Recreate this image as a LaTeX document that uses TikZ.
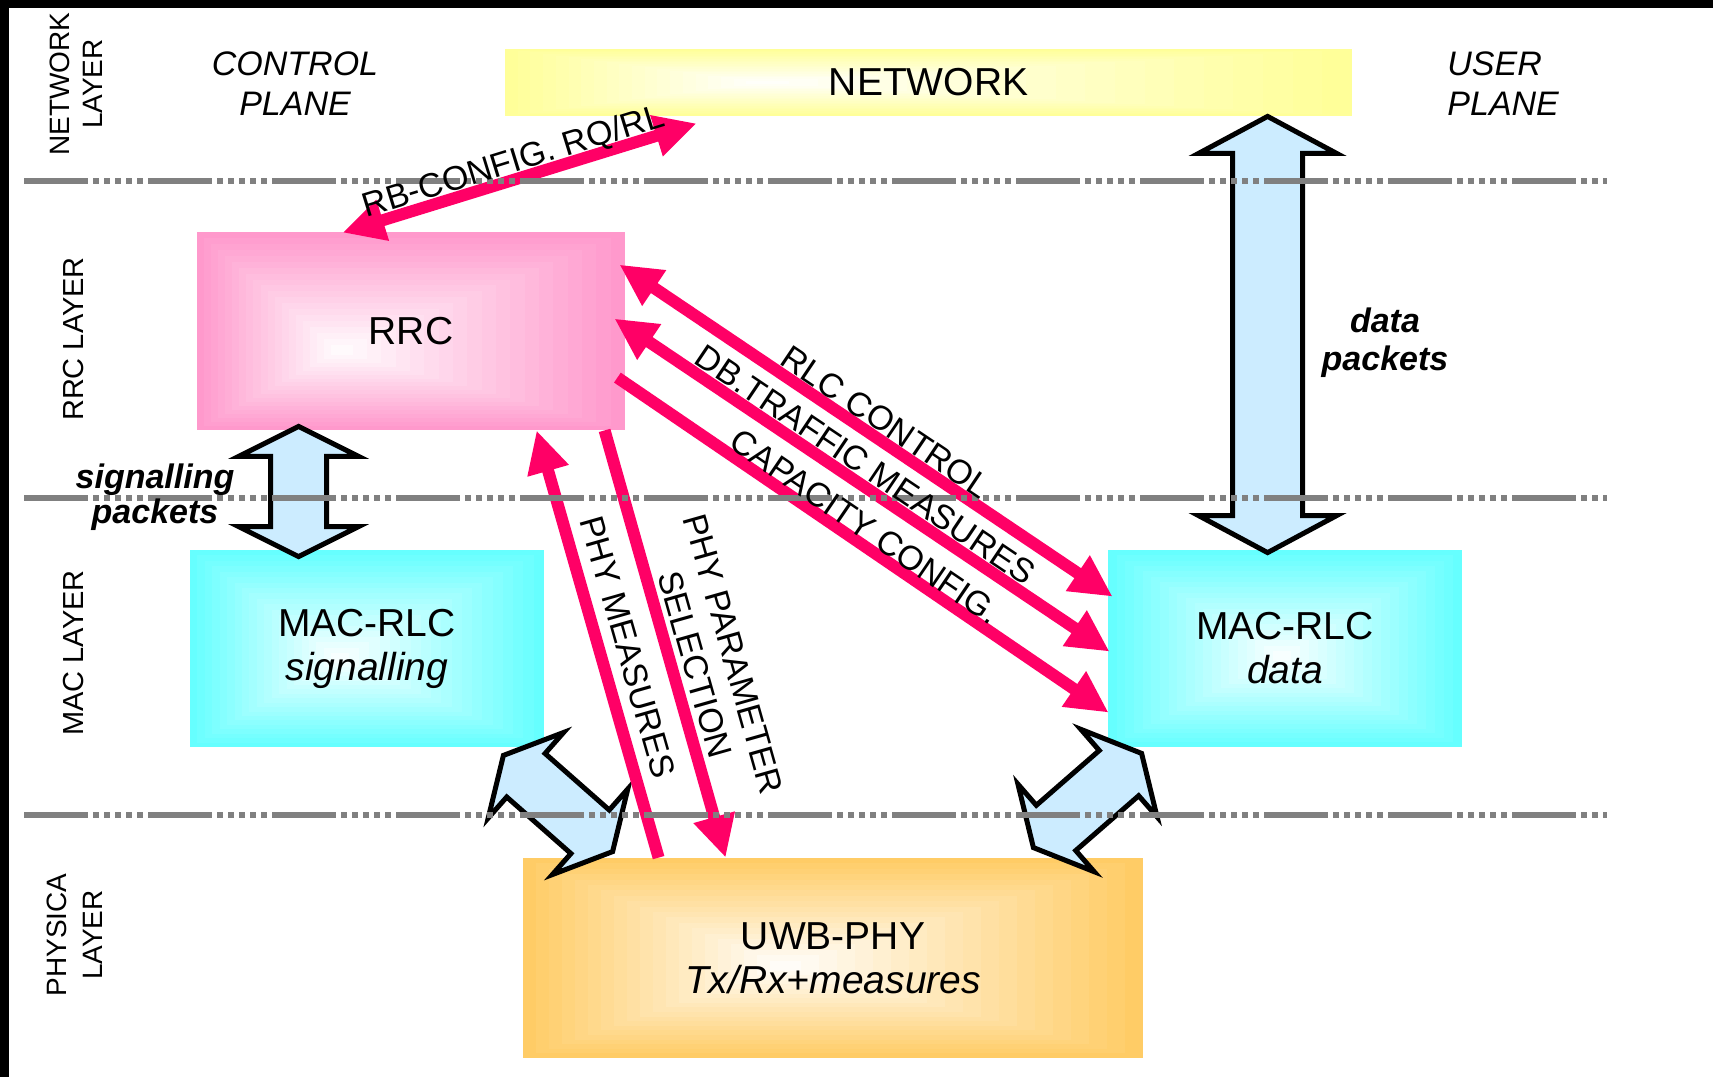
\documentclass[tikz,border=0pt]{standalone}
\usepackage{fontspec}
\setmainfont{Liberation Sans}
\usetikzlibrary{arrows.meta,calc}

\definecolor{netyellow}{HTML}{FFFF99}
\definecolor{rrcpink}{HTML}{FF99CC}
\definecolor{maccyan}{HTML}{66FFFF}
\definecolor{phyorange}{HTML}{FFCC66}
\definecolor{flowblue}{HTML}{CCECFF}
\definecolor{ctrlred}{HTML}{FF0066}
\definecolor{rulegray}{HTML}{808080}

% hollow double block arrow between two tips:
% #1,#2 tips, #3 head length, #4 head half width, #5 shaft half width
\newcommand\fatarrow[5]{%
  \path (#1) coordinate (fa-a) (#2) coordinate (fa-b);
  \path ($(fa-a)!#3!(fa-b)$) coordinate (fa-ah) ($(fa-b)!#3!(fa-a)$) coordinate (fa-bh);
  \draw[blockarrow] (fa-a)
    -- ($(fa-ah)!#4!90:(fa-b)$) -- ($(fa-ah)!#5!90:(fa-b)$)
    -- ($(fa-bh)!#5!-90:(fa-a)$) -- ($(fa-bh)!#4!-90:(fa-a)$)
    -- (fa-b)
    -- ($(fa-bh)!#4!90:(fa-a)$) -- ($(fa-bh)!#5!90:(fa-a)$)
    -- ($(fa-ah)!#5!-90:(fa-b)$) -- ($(fa-ah)!#4!-90:(fa-b)$)
    -- cycle;}

\tikzset{
  % rectangle filled with a stepped gradient from the border colour to white at a focus point
  gradbox/.style n args={3}{fill=#1,
    path picture={
      \path let \p1=(path picture bounding box.south west),
                \p2=(path picture bounding box.north east) in
        (\p1) coordinate (gsw) (\p2) coordinate (gne)
        ({\x1+#2*(\x2-\x1)},{\y2-#3*(\y2-\y1)}) coordinate (gfc);
      \foreach \i in {0,...,19}{
        \pgfmathsetmacro\t{\i/20}
        \pgfmathtruncatemacro\m{round(100*(1-\i/20))}
        \fill[#1!\m!white] ($(gsw)!\t!(gfc)$) rectangle ($(gne)!\t!(gfc)$);
      }
    }},
  box/.style={rectangle, inner sep=0pt, align=center, font=\fontsize{19.5}{22}\selectfont},
  layerlabel/.style={rotate=90, align=center, inner sep=0pt, font=\fontsize{14}{16.5}\selectfont},
  plane/.style={inner sep=0pt, font=\itshape\fontsize{17}{20}\selectfont},
  flowlabel/.style={inner sep=0pt, align=center, font=\bfseries\itshape\fontsize{17}{17.5}\selectfont},
  ctrl/.style={draw=ctrlred, line width=6pt, >={Triangle[length=21pt,width=20pt]}},
  ctrllabel/.style={sloped, inner sep=0pt, anchor=center, font=\fontsize{17}{20}\selectfont},
  oneline/.style={text height=12.2pt, text depth=0pt},
  blockarrow/.style={draw=black, fill=flowblue, line width=2.5pt, line join=miter, miter limit=10},
  layerrule/.style={draw=rulegray, line width=3.25pt,
    dash pattern=on 32pt off 2.5pt on 3pt off 2.5pt on 3pt off 2.5pt on 3pt off 2.5pt on 3pt off 2.5pt on 3pt off 2.5pt},
}

\begin{document}
\begin{tikzpicture}[x=0.5pt,y=-0.5pt]
\useasboundingbox (0,0) rectangle (1713,1077);
\fill[white] (0,0) rectangle (1713,1077);
\fill[black] (0,0) rectangle (1713,8);
\fill[black] (0,0) rectangle (9,1077);

% protocol entities
\node[box, gradbox={netyellow}{0.3}{0.5}, minimum width=423.5pt, minimum height=33.5pt] (net) at (928.5,82.5) {NETWORK};
\node[box, gradbox={rrcpink}{0.33}{0.6}, minimum width=214pt, minimum height=99pt] (rrc) at (411,331) {RRC};
\node[box, gradbox={maccyan}{0.42}{0.55}, minimum width=177pt, minimum height=98.5pt] (macs) at (367,648.5) {MAC-RLC\\\textit{signalling}};
\node[box, gradbox={maccyan}{0.49}{0.54}, minimum width=177pt, minimum height=98.5pt] (macd) at (1285,648.5) {MAC-RLC\\\textit{data}};
\node[box, gradbox={phyorange}{0.42}{0.54}, minimum width=310pt, minimum height=100pt] (phy) at (833,958) {UWB-PHY\\\textit{Tx/Rx+measures}};

% end points of the flows
\coordinate (b1A) at ($(net.south west)+(763,0)$);
\coordinate (b1B) at ($(macd.north west)+(160,3)$);
\coordinate (b2A) at ($(rrc.south west)+(102,-4)$);
\coordinate (b2B) at ($(macs.north west)+(109,7)$);
\coordinate (b3A) at ($(macs.south east)+(-41,8)$);
\coordinate (b3B) at ($(phy.north west)+(90,-6)$);
\coordinate (b4A) at ($(macd.south west)+(34,6)$);
\coordinate (b4B) at ($(phy.north east)+(-110,-10)$);

\coordinate (rbA) at ($(rrc.north west)+(146,1)$);
\coordinate (rbB) at ($(net.south west)+(192,7)$);
\coordinate (c1A) at ($(rrc.north east)+(-6,33)$);
\coordinate (c1B) at ($(macd.north west)+(5,47)$);
\coordinate (c2A) at ($(rrc.north east)+(-11,87)$);
\coordinate (c2B) at ($(macd.north west)+(2,102)$);
\coordinate (c3A) at ($(rrc.north east)+(-8,146)$);
\coordinate (c3B) at ($(macd.north west)+(1,163)$);
\coordinate (pmA) at ($(rrc.south west)+(340,0)$);
\coordinate (pmB) at ($(phy.north west)+(136,0)$);
\coordinate (ppA) at ($(rrc.south west)+(408,0)$);
\coordinate (ppB) at ($(phy.north west)+(203,0)$);

% data / signalling flows
\fatarrow{b1A}{b1B}{18.5pt}{34.5pt}{17.5pt}
\fatarrow{b2A}{b2B}{15pt}{30pt}{14pt}
\fatarrow{b3A}{b3B}{15pt}{28.5pt}{14.5pt}
\fatarrow{b4A}{b4B}{15pt}{29pt}{15pt}

% control flows
\draw[ctrl, <->] (rbA) -- (rbB);
\draw[ctrl, <->] (c1A) -- (c1B);
\draw[ctrl, <->] (c2A) -- (c2B);
\draw[ctrl, ->] (c3A) -- (c3B);
\draw[ctrl, <-] (pmA) -- (pmB);
\draw[ctrl, ->] (ppA) -- (ppB);

% layer boundaries
\draw[layerrule] (24,181) -- (1607,181);
\draw[layerrule] (24,498) -- (1607,498);
\draw[layerrule] (24,815) -- (1607,815);

% control flow labels
\path ($(rbA)!9.6pt!90:(rbB)$) -- node[ctrllabel, oneline, pos=0.497] (lrb) {RB-CONFIG. RQ/RL} ($(rbB)!9.6pt!-90:(rbA)$);
\path ($(c1A)!9.35pt!90:(c1B)$) -- node[ctrllabel, oneline, pos=0.52] (lc1) {RLC CONTROL} ($(c1B)!9.35pt!-90:(c1A)$);
\path ($(c2A)!9.6pt!90:(c2B)$) -- node[ctrllabel, oneline, pos=0.486] (lc2) {DB.TRAFFIC MEASURES} ($(c2B)!9.6pt!-90:(c2A)$);
\path ($(c3A)!8.5pt!90:(c3B)$) -- node[ctrllabel, oneline, pos=0.486] (lc3) {CAPACITY CONFIG.} ($(c3B)!8.5pt!-90:(c3A)$);
\path ($(pmA)!14.5pt!90:(pmB)$) -- node[ctrllabel, oneline, pos=0.525] (lpm) {PHY MEASURES} ($(pmB)!14.5pt!-90:(pmA)$);
\path ($(ppA)!21.5pt!90:(ppB)$) -- node[ctrllabel, align=center, pos=0.563] (lpp) {PHY PARAMETER\\SELECTION} ($(ppB)!21.5pt!-90:(ppA)$);

% plane captions
\node[plane, align=center] (cplane) at (295,84) {CONTROL\\PLANE};
\node[plane, align=left, anchor=west] (uplane) at (1447,84) {USER\\PLANE};

% flow captions
\node[flowlabel] (sigpk) at (155,497) {signalling\\packets};
\node[flowlabel, font=\bfseries\itshape\fontsize{17}{19}\selectfont] (datpk) at (1385,343) {data\\packets};

% layer captions
\node[layerlabel] (lnet) at (76,84) {NETWORK\\LAYER};
\node[layerlabel, font=\fontsize{14.5}{16.5}\selectfont] (lrrc) at (74,339) {RRC LAYER};
\node[layerlabel, font=\fontsize{14.5}{16.5}\selectfont] (lmac) at (74,653) {MAC LAYER};
\node[layerlabel, font=\fontsize{14}{18}\selectfont] (lphy) at (75,935) {PHYSICA\\LAYER};
\end{tikzpicture}
\end{document}
